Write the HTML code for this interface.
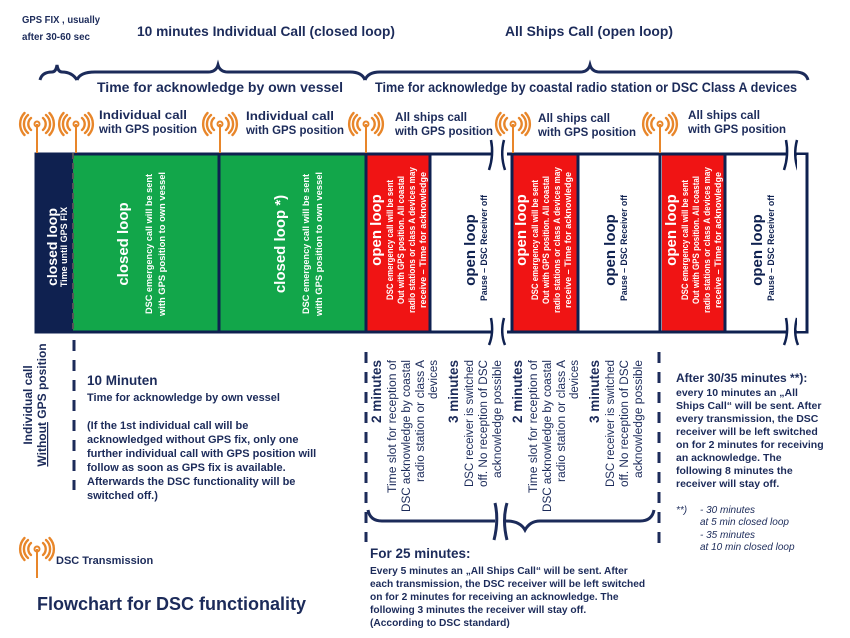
<!DOCTYPE html>
<html><head><meta charset="utf-8"><style>
html,body{margin:0;padding:0;background:#fff;}
svg{display:block;font-family:"Liberation Sans",sans-serif;}
</style></head><body>
<svg width="850" height="638" viewBox="0 0 850 638" xmlns="http://www.w3.org/2000/svg">
<defs>
<g id="ant">
  <line x1="0" y1="0" x2="0" y2="29" stroke="#e8862a" stroke-width="2"/>
  <circle cx="0" cy="0" r="2.5" fill="none" stroke="#e8862a" stroke-width="2"/>
  <g fill="none" stroke="#e8862a" stroke-width="2.4" stroke-linecap="round">
    <path d="M-6,-6 A8,8 0 0 0 -6,6"/><path d="M6,-6 A8,8 0 0 1 6,6"/>
    <path d="M-9,-9 A12,12 0 0 0 -9,9"/><path d="M9,-9 A12,12 0 0 1 9,9"/>
    <path d="M-12.5,-11 A16,16 0 0 0 -12.5,11"/><path d="M12.5,-11 A16,16 0 0 1 12.5,11"/>
  </g>
</g>
</defs>

<!-- top texts -->
<g fill="#1c2b5a">
<text x="22" y="23" font-size="10" font-weight="bold" textLength="78" lengthAdjust="spacingAndGlyphs">GPS FIX , usually</text>
<text x="22" y="40" font-size="10" font-weight="bold" textLength="68" lengthAdjust="spacingAndGlyphs">after 30-60 sec</text>
<text x="137" y="36" font-size="14" font-weight="bold" textLength="258" lengthAdjust="spacingAndGlyphs">10 minutes Individual Call (closed loop)</text>
<text x="505" y="36" font-size="14" font-weight="bold" textLength="168" lengthAdjust="spacingAndGlyphs">All Ships Call (open loop)</text>
<text x="97" y="92" font-size="13.5" font-weight="bold" textLength="246" lengthAdjust="spacingAndGlyphs">Time for acknowledge by own vessel</text>
<text x="375" y="92" font-size="13.5" font-weight="bold" textLength="422" lengthAdjust="spacingAndGlyphs">Time for acknowledge by coastal radio station or DSC Class A devices</text>
</g>
<!-- braces -->
<g fill="none" stroke="#1c2b5a" stroke-width="3">
<path d="M40,80 Q42,72 52,72 Q56,72 57,65 Q58,72 62,72 Q72,72 77,80"/>
<path d="M77,80 Q80,72 95,72 L208,72 Q216,72 218,65 Q220,72 228,72 L350,72 Q362,72 365,80"/>
<path d="M365,80 Q368,72 380,72 L580,72 Q588,72 590,65 Q592,72 600,72 L795,72 Q806,72 808,80"/>
</g>

<!-- main boxes -->
<rect x="36" y="153" width="38" height="180" fill="#0f2150"/>
<rect x="73" y="153" width="146" height="180" fill="#12a64a"/>
<rect x="219" y="153" width="147" height="180" fill="#12a64a"/>
<rect x="367" y="153" width="63" height="180" fill="#f01414"/>
<rect x="512" y="153" width="66" height="180" fill="#f01414"/>
<rect x="662" y="153" width="63" height="180" fill="#f01414"/>
<g fill="none" stroke="#0f2150" stroke-width="3">
<rect x="36" y="154" width="771" height="178"/>
<line x1="219" y1="153" x2="219" y2="333"/>
<line x1="366" y1="153" x2="366" y2="333"/>
<line x1="430" y1="153" x2="430" y2="333"/>
<line x1="512" y1="153" x2="512" y2="333"/>
<line x1="578" y1="153" x2="578" y2="333"/>
<line x1="660" y1="153" x2="660" y2="333"/>
<line x1="725" y1="153" x2="725" y2="333"/>
</g>
<line x1="73" y1="153" x2="73" y2="333" stroke="#555" stroke-width="2" stroke-dasharray="6 4"/>
<!-- breaks -->
<rect x="492" y="140" width="15" height="205" fill="#fff"/>
<rect x="787" y="140" width="8" height="205" fill="#fff"/>
<g fill="none" stroke="#0f2150" stroke-width="2.5">
<path d="M491,140 Q494,155 489,170"/><path d="M504,140 Q500,155 505,170"/>
<path d="M491,318 Q494,333 489,345"/><path d="M504,318 Q500,333 505,345"/>
<path d="M786,140 Q789,155 784,170"/><path d="M797,140 Q793,155 798,170"/>
<path d="M786,318 Q789,333 784,345"/><path d="M797,318 Q793,333 798,345"/>
<line x1="797" y1="154" x2="807" y2="154"/><line x1="797" y1="332" x2="807" y2="332"/>
</g>
<rect x="797" y="155" width="9" height="176" fill="#fff"/>
<line x1="807" y1="153" x2="807" y2="333" stroke="#0f2150" stroke-width="3"/>

<!-- antennas -->
<use href="#ant" x="37" y="124"/>
<use href="#ant" x="76" y="124"/>
<use href="#ant" x="220" y="124"/>
<use href="#ant" x="366" y="124"/>
<use href="#ant" x="513" y="124"/>
<use href="#ant" x="660" y="124"/>
<g fill="#1c2b5a" font-size="12" font-weight="bold">
<text x="99" y="119" textLength="88" lengthAdjust="spacingAndGlyphs">Individual call</text><text x="99" y="133" textLength="98" lengthAdjust="spacingAndGlyphs">with GPS position</text>
<text x="246" y="120" textLength="88" lengthAdjust="spacingAndGlyphs">Individual call</text><text x="246" y="134" textLength="98" lengthAdjust="spacingAndGlyphs">with GPS position</text>
<text x="395" y="121" textLength="72" lengthAdjust="spacingAndGlyphs">All ships call</text><text x="395" y="135" textLength="98" lengthAdjust="spacingAndGlyphs">with GPS position</text>
<text x="538" y="122" textLength="72" lengthAdjust="spacingAndGlyphs">All ships call</text><text x="538" y="136" textLength="98" lengthAdjust="spacingAndGlyphs">with GPS position</text>
<text x="688" y="119" textLength="72" lengthAdjust="spacingAndGlyphs">All ships call</text><text x="688" y="133" textLength="98" lengthAdjust="spacingAndGlyphs">with GPS position</text>
</g>

<!-- box texts -->
<g fill="#fff" font-weight="bold" text-anchor="middle">
<text transform="translate(57,247) rotate(-90)" font-size="14">closed loop</text>
<text transform="translate(67,247) rotate(-90)" font-size="9">Time until GPS FIX</text>
<text transform="translate(128,244) rotate(-90)" font-size="15">closed loop</text>
<text transform="translate(152,244) rotate(-90)" font-size="9.5" textLength="140" lengthAdjust="spacingAndGlyphs">DSC emergency call will be sent</text>
<text transform="translate(165,244) rotate(-90)" font-size="9.5" textLength="144" lengthAdjust="spacingAndGlyphs">with GPS position to own vessel</text>
<text transform="translate(285,244) rotate(-90)" font-size="15">closed loop *)</text>
<text transform="translate(309,244) rotate(-90)" font-size="9.5" textLength="140" lengthAdjust="spacingAndGlyphs">DSC emergency call will be sent</text>
<text transform="translate(322,244) rotate(-90)" font-size="9.5" textLength="144" lengthAdjust="spacingAndGlyphs">with GPS position to own vessel</text>
</g>
<g id="red" fill="#fff" font-weight="bold" text-anchor="middle">
<text transform="translate(381,230) rotate(-90)" font-size="15">open loop</text>
<text transform="translate(393,240) rotate(-90)" font-size="9" textLength="120" lengthAdjust="spacingAndGlyphs">DSC emergency call will be sent</text>
<text transform="translate(404,240) rotate(-90)" font-size="9" textLength="128" lengthAdjust="spacingAndGlyphs">Out with GPS position. All coastal</text>
<text transform="translate(415,240) rotate(-90)" font-size="9" textLength="146" lengthAdjust="spacingAndGlyphs">radio stations or class A devices may</text>
<text transform="translate(426,240) rotate(-90)" font-size="9" textLength="136" lengthAdjust="spacingAndGlyphs">receive – Time for acknowledge</text>
</g>
<use href="#red" x="145" y="0"/>
<use href="#red" x="295" y="0"/>
<g id="wht" fill="#0f2150" font-weight="bold" text-anchor="middle">
<text transform="translate(475,250) rotate(-90)" font-size="15">open loop</text>
<text transform="translate(487,248) rotate(-90)" font-size="9.5" textLength="106" lengthAdjust="spacingAndGlyphs">Pause – DSC Receiver off</text>
</g>
<use href="#wht" x="140" y="0"/>
<use href="#wht" x="287" y="0"/>

<!-- dashed lines -->
<g stroke="#1c2b5a" stroke-width="3" stroke-dasharray="11 9">
<line x1="74" y1="340" x2="74" y2="490"/>
<line x1="366" y1="352" x2="366" y2="542"/>
<line x1="659" y1="352" x2="659" y2="546"/>
</g>
<!-- bottom brace -->
<g fill="none" stroke="#1c2b5a" stroke-width="3">
<path d="M368,510 Q370,521 382,521 L495,521"/>
<path d="M506,521 Q520,521 525,530 Q530,521 540,521 L640,521 Q652,521 654,510"/>
<path d="M495,503 Q499,520 494,540"/><path d="M507,503 Q502,520 507,540"/>
</g>

<!-- bottom columns -->
<g fill="#1c2b5a" font-size="11.5" text-anchor="end">
<text transform="translate(381,360) rotate(-90)" font-weight="bold" font-size="13.5">2 minutes</text>
<text transform="translate(396,360) rotate(-90)" textLength="133" lengthAdjust="spacingAndGlyphs">Time slot for reception of</text>
<text transform="translate(410,360) rotate(-90)" textLength="152" lengthAdjust="spacingAndGlyphs">DSC acknowledge by coastal</text>
<text transform="translate(424,360) rotate(-90)" textLength="122" lengthAdjust="spacingAndGlyphs">radio station or class A</text>
<text transform="translate(437,360) rotate(-90)">devices</text>
<text transform="translate(458,360) rotate(-90)" font-weight="bold" font-size="13.5">3 minutes</text>
<text transform="translate(473,360) rotate(-90)" textLength="127" lengthAdjust="spacingAndGlyphs">DSC receiver is switched</text>
<text transform="translate(487,360) rotate(-90)" textLength="127" lengthAdjust="spacingAndGlyphs">off. No reception of DSC</text>
<text transform="translate(501,360) rotate(-90)" textLength="118" lengthAdjust="spacingAndGlyphs">acknowledge possible</text>

<text transform="translate(522,360) rotate(-90)" font-weight="bold" font-size="13.5">2 minutes</text>
<text transform="translate(537,360) rotate(-90)" textLength="133" lengthAdjust="spacingAndGlyphs">Time slot for reception of</text>
<text transform="translate(551,360) rotate(-90)" textLength="152" lengthAdjust="spacingAndGlyphs">DSC acknowledge by coastal</text>
<text transform="translate(565,360) rotate(-90)" textLength="122" lengthAdjust="spacingAndGlyphs">radio station or class A</text>
<text transform="translate(578,360) rotate(-90)">devices</text>
<text transform="translate(599,360) rotate(-90)" font-weight="bold" font-size="13.5">3 minutes</text>
<text transform="translate(614,360) rotate(-90)" textLength="127" lengthAdjust="spacingAndGlyphs">DSC receiver is switched</text>
<text transform="translate(628,360) rotate(-90)" textLength="127" lengthAdjust="spacingAndGlyphs">off. No reception of DSC</text>
<text transform="translate(642,360) rotate(-90)" textLength="118" lengthAdjust="spacingAndGlyphs">acknowledge possible</text>
</g>

<!-- left vertical text -->
<g fill="#1c2b5a" font-size="12" font-weight="bold" text-anchor="middle">
<text transform="translate(32,405) rotate(-90)">Individual call</text>
<text transform="translate(46,405) rotate(-90)"><tspan text-decoration="underline">Without</tspan> GPS position</text>
</g>
<!-- left text block -->
<g fill="#1c2b5a" font-weight="bold">
<text x="87" y="385" font-size="13.5">10 Minuten</text>
<text x="87" y="401" font-size="11">Time for acknowledge by own vessel</text>
<text x="87" y="429" font-size="11">(If the 1st individual call will be</text>
<text x="87" y="443" font-size="11">acknowledged without GPS fix, only one</text>
<text x="87" y="457" font-size="11">further individual call with GPS position will</text>
<text x="87" y="471" font-size="11">follow as soon as GPS fix is available.</text>
<text x="87" y="485" font-size="11">Afterwards the DSC functionality will be</text>
<text x="87" y="499" font-size="11">switched off.)</text>
<text x="56" y="564" font-size="11">DSC Transmission</text>
<text x="37" y="610" font-size="18">Flowchart for DSC functionality</text>
</g>
<use href="#ant" x="37" y="549"/>

<!-- bottom middle -->
<g fill="#1c2b5a" font-weight="bold">
<text x="370" y="558" font-size="13.5">For 25 minutes:</text>
<text x="370" y="574" font-size="10.2">Every 5 minutes an „All Ships Call“ will be sent. After</text>
<text x="370" y="587" font-size="10.2">each transmission, the DSC receiver will be left switched</text>
<text x="370" y="600" font-size="10.2">on for 2 minutes for receiving an acknowledge. The</text>
<text x="370" y="613" font-size="10.2">following 3 minutes the receiver will stay off.</text>
<text x="370" y="626" font-size="10.2">(According to DSC standard)</text>
</g>
<!-- right text -->
<g fill="#1c2b5a" font-weight="bold" font-size="10.5">
<text x="676" y="382" font-size="12">After 30/35 minutes **):</text>
<text x="676" y="396">every 10 minutes an „All</text>
<text x="676" y="409">Ships Call“ will be sent. After</text>
<text x="676" y="422">every transmission, the DSC</text>
<text x="676" y="435">receiver will be left switched</text>
<text x="676" y="448">on for 2 minutes for receiving</text>
<text x="676" y="461">an acknowledge. The</text>
<text x="676" y="474">following 8 minutes the</text>
<text x="676" y="487">receiver will stay off.</text>
<g font-style="italic" font-weight="normal" font-size="10">
<text x="676" y="513">**)</text>
<text x="700" y="513">- 30 minutes</text>
<text x="700" y="525">at 5 min closed loop</text>
<text x="700" y="538">- 35 minutes</text>
<text x="700" y="550">at 10 min closed loop</text>
</g>
</g>
</svg>
</body></html>
